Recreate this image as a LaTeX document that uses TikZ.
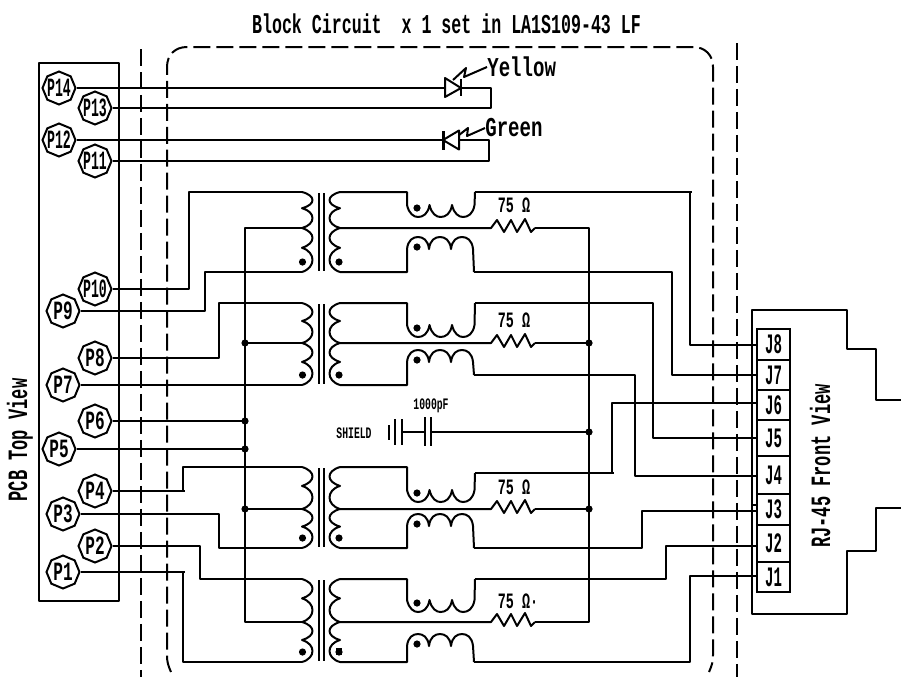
\documentclass[tikz,border=0pt]{standalone}
\usepackage{fontspec}
\usetikzlibrary{shapes.geometric}
\newfontfamily\cadfont[FakeStretch=0.61]{Liberation Mono}
\newfontfamily\cadnarrow[FakeStretch=0.5]{Liberation Mono}
\newfontfamily\cadwide[FakeStretch=0.7]{Liberation Mono}
\tikzstyle{wire} = [line width=0.04cm, line join=round]
\tikzstyle{fence} = [line width=0.04cm, dash pattern=on 0.34cm off 0.12cm]
\tikzstyle{caption} = [inner sep=0pt, font=\cadfont\bfseries\fontsize{15.5}{17}\selectfont]
\tikzstyle{sidetext} = [inner sep=0pt, rotate=90, font=\cadfont\bfseries\fontsize{15.9}{17}\selectfont]
\tikzstyle{ledname} = [inner sep=0pt, font=\cadwide\bfseries\fontsize{15.5}{17}\selectfont]
\tikzstyle{ohms} = [inner sep=0pt, font=\cadfont\bfseries\fontsize{12.5}{14}\selectfont]
\tikzstyle{tiny} = [inner sep=0pt, font=\cadfont\bfseries\fontsize{9.1}{10}\selectfont]
\tikzstyle{pin} = [draw, line width=0.04cm, regular polygon, regular polygon sides=8,
  shape border rotate=22.5, minimum size=0.66cm, inner sep=0pt,
  font=\cadfont\bfseries\fontsize{15}{16}\selectfont]
\tikzstyle{widepin} = [pin, font=\cadnarrow\bfseries\fontsize{15}{16}\selectfont]
\tikzstyle{jack} = [draw, line width=0.04cm, minimum width=0.66cm, inner sep=0pt,
  font=\cadnarrow\bfseries\fontsize{16}{17}\selectfont]

% text that leaves the octagon at its size
\newcommand{\pinlabel}[1]{\makebox[0pt]{\raisebox{-0.33em}[0pt][0pt]{#1}}}
% two humps of a winding: x, bulge, from y, to y
\newcommand{\coil}[4]{
  \draw[wire] (#1,#3)
    .. controls ({#1+#2},{#3+0.1*(#4-#3)}) and ({#1+#2},{#3+0.35*(#4-#3)}) .. (#1,{#3+0.45*(#4-#3)})
    .. controls ({#1+#2},{#3+0.55*(#4-#3)}) and ({#1+#2},{#3+0.9*(#4-#3)}) .. (#1,#4);
}
% name, y top, y centre, y bottom, right leg top, right leg bottom, upper bumps, lower bumps
\newcommand{\xfmr}[8]{
  \coordinate (#1lt) at (302,#2);
  \coordinate (#1lc) at (302,#3);
  \coordinate (#1lb) at (302,#4);
  \coordinate (#1rt) at (475,#5);
  \coordinate (#1rb) at (474,#6);
  \coordinate (#1rc) at (535,#3);
  \coil{302}{14}{#2}{#3}
  \coil{302}{14}{#3}{#4}
  \coil{340}{-14}{#2}{#3}
  \coil{340}{-14}{#3}{#4}
  \draw[wire] (319,{#2+1}) -- (319,{#4-1});
  \draw[wire] (324,{#2+1}) -- (324,{#4-1});
  \fill (302.5,{#4-10}) circle (3.6);
  \fill (339,{#4-10}) circle (3.6);
  % coupled coils
  \draw[wire] (340,#2) -- (407,#2) -- (407,{#7-12})
    \foreach \hx in {407,429.5,452} {
      .. controls ({\hx+2},{#7-3}) and ({\hx+7},#7) .. ({\hx+11},#7)
      .. controls ({\hx+16},#7) and ({\hx+21},{#7-3}) .. ({\hx+22.5},{#7-12})
    } -- (#1rt);
  \draw[wire] (340,#4) -- (407,#4) -- (407,{#8+12})
    \foreach \hx in {407,429,451} {
      .. controls ({\hx+1},{#8+3}) and ({\hx+6},#8) .. ({\hx+11},#8)
      .. controls ({\hx+16},#8) and ({\hx+21},{#8+3}) .. ({\hx+22},{#8+12})
    } -- (#1rb);
  \fill (417,{#7-9}) circle (3.6);
  \fill (417,{#8+10}) circle (3.6);
  % resistor
  \draw[wire] (340,#3) -- (491,#3) -- (497,{#3-8}) -- (504,{#3+4}) -- (511,{#3-8})
    -- (517,{#3+4}) -- (525,{#3-9}) -- (531,{#3+4}) -- (#1rc);
}

\begin{document}
\begin{tikzpicture}[x=0.02cm, y=-0.02cm]
    \useasboundingbox (0,0) rectangle (901,677);

    % Labels
    \node[caption] (title) at (446.5,24) {Block Circuit\ \ x 1 set in LA1S109-43 LF};
    \node[sidetext] (pcb) at (20,440) {PCB Top View};
    \node[sidetext] (rj) at (820,466) {RJ-45 Front View};
    \node[ledname, anchor=west] (yellow) at (487,67) {Yellow};
    \node[ledname, anchor=west] (green) at (485,128) {Green};
    \node[tiny] (shield) at (354,433) {SHIELD};
    \node[tiny] (cap) at (431,406) {1000pF};
    \node[ohms] (r1) at (514,205) {75 Ω};
    \node[ohms] (r2) at (514,320) {75 Ω};
    \node[ohms] (r3) at (514,487) {75 Ω};
    \node[ohms] (r4) at (518,601) {75 Ω·};

    % Fences
    \draw[fence] (141,49) -- (141,677);
    \draw[fence] (737,43) -- (737,677);
    \draw[fence] (171,672) .. controls (168,665) and (167,662) .. (167,655) -- (167,67)
      .. controls (167,55) and (175,47) .. (187,47) -- (693,47)
      .. controls (705,47) and (713,55) .. (713,67) -- (713,655)
      .. controls (713,662) and (712,665) .. (709,672);

    % PCB side
    \draw[wire] (39,63) rectangle (119,601);
    \node[widepin] (P14) at (59,88) {\pinlabel{P14}};
    \node[widepin] (P13) at (95,108) {\pinlabel{P13}};
    \node[widepin] (P12) at (59,140) {\pinlabel{P12}};
    \node[widepin] (P11) at (95,161) {\pinlabel{P11}};
    \node[widepin] (P10) at (95,289) {\pinlabel{P10}};
    \node[pin] (P9) at (63,311) {\pinlabel{P9}};
    \node[pin] (P8) at (95,358) {\pinlabel{P8}};
    \node[pin] (P7) at (63,385) {\pinlabel{P7}};
    \node[pin] (P6) at (95,421) {\pinlabel{P6}};
    \node[pin] (P5) at (59,449) {\pinlabel{P5}};
    \node[pin] (P4) at (95,491) {\pinlabel{P4}};
    \node[pin] (P3) at (63,514) {\pinlabel{P3}};
    \node[pin] (P2) at (95,546) {\pinlabel{P2}};
    \node[pin] (P1) at (63,572) {\pinlabel{P1}};

    % RJ-45 side
    \draw[wire] (901,400) -- (876,400) -- (876,349) -- (847,349) -- (847,310) -- (752,310)
      -- (752,614) -- (847,614) -- (847,551) -- (876,551) -- (876,508) -- (901,508);
    \node[jack, minimum height=0.62cm] (J8) at (773.5,344.5) {J8};
    \node[jack, minimum height=0.60cm] (J7) at (773.5,375) {J7};
    \node[jack, minimum height=0.60cm] (J6) at (773.5,405) {J6};
    \node[jack, minimum height=0.72cm] (J5) at (773.5,438) {J5};
    \node[jack, minimum height=0.76cm] (J4) at (773.5,475) {J4};
    \node[jack, minimum height=0.62cm] (J3) at (773.5,509.5) {J3};
    \node[jack, minimum height=0.74cm] (J2) at (773.5,543.5) {J2};
    \node[jack, minimum height=0.60cm] (J1) at (773.5,577) {J1};
    \coordinate (W8) at (757,345);
    \coordinate (W7) at (757,375);
    \coordinate (W6) at (757,403);
    \coordinate (W5) at (757,438);
    \coordinate (W4) at (757,476);
    \coordinate (W3) at (757,511);
    \coordinate (W2) at (757,546);
    \coordinate (W1) at (757,576);
    \draw[wire] (753,505) -- (757,505) -- (757,509);

    % Transformers
    \xfmr{T1}{192}{228}{272}{192}{272}{217}{237}
    \xfmr{T2}{303}{343}{385}{303}{375}{337}{350}
    \xfmr{T3}{467}{509}{548}{473}{548}{502}{514}
    \xfmr{T4}{579}{622}{662}{579}{662}{612}{634}
    \fill (336,648) rectangle (342,655);

    % LEDs
    \coordinate (Ya) at (445,88);
    \coordinate (Yc) at (461,88);
    \coordinate (Ga) at (443,140);
    \coordinate (Gc) at (459,140);
    \draw[wire] (Ya) ++(0,-10) -- ++(0,19) -- (Yc) -- cycle;
    \draw[wire] (461,79) -- (461,96);
    \draw[wire] (453,80) -- (466,68) -- (464,77) -- (yellow.west);
    \draw[wire] (Gc) ++(0,-9.5) -- ++(0,19) -- (Ga) -- cycle;
    \draw[line width=0.06cm] (443,131) -- (443,150);
    \draw[wire] (459,135) -- (468,128) -- (467,136) -- (green.west);

    % Wires to the LEDs
    \draw[wire] (P14.east) -- (Ya);
    \draw[wire] (P13.east) -| (491,88) -- (Yc);
    \draw[wire] (P12.east) -- (Ga);
    \draw[wire] (P11.east) -| (489,140) -- (Gc);

    % Wires to the PCB pins
    \draw[wire] (P10.east) -| (189,192) -- (T1lt);
    \draw[wire] (P9.east) -| (205,272) -- (T1lb);
    \draw[wire] (P8.east) -| (219,303) -- (T2lt);
    \draw[wire] (P7.east) -- (T2lb);
    \draw[wire] (P4.east) -- (185,491) (183,491) |- (T3lt);
    \draw[wire] (P3.east) -| (219,548) -- (T3lb);
    \draw[wire] (P2.east) -| (200,579) -- (T4lt);
    \draw[wire] (P1.east) -- (185,572) (183,572) |- (T4lb);

    % Left bus
    \draw[wire] (T1lc) -| (245,622) -- (T4lc);
    \draw[wire] (T2lc) -- (245,343);
    \draw[wire] (T3lc) -- (245,509);
    \draw[wire] (P6.east) -- (245,421);
    \draw[wire] (P5.east) -- (245,449);
    \fill (245,343) circle (3.6);
    \fill (245,421) circle (3.6);
    \fill (245,449) circle (3.6);
    \fill (245,509) circle (3.6);

    % Right bus
    \draw[wire] (T1rc) -| (589,622) -- (T4rc);
    \draw[wire] (T2rc) -- (589,343);
    \draw[wire] (T3rc) -- (589,509);
    \fill (589,343) circle (3.6);
    \fill (589,432) circle (3.6);
    \fill (589,509) circle (3.6);

    % Shield capacitor
    \draw[wire] (389,425) -- (389,440);
    \draw[wire] (395,419) -- (395,445);
    \draw[wire] (402,419) -- (402,445);
    \draw[wire] (425,417) -- (425,446);
    \draw[wire] (431,417) -- (431,446);
    \draw[wire] (402,432) -- (425,432);
    \draw[wire] (431,432) -- (589,432);

    % Wires to the jack
    \draw[wire] (T1rt) -- (692,192) (690,192) |- (W8);
    \draw[wire] (T1rb) -| (672,375) -- (W7);
    \draw[wire] (T2rt) -| (653,438) -- (W5);
    \draw[wire] (T2rb) -| (635,476) -- (W4);
    \draw[wire] (T3rt) -- (614,473) (612,473) |- (W6);
    \draw[wire] (T3rb) -| (642,511) -- (W3);
    \draw[wire] (T4rt) -| (666,546) -- (W2);
    \draw[wire] (T4rb) -| (690,576) -- (W1);
\end{tikzpicture}
\end{document}
